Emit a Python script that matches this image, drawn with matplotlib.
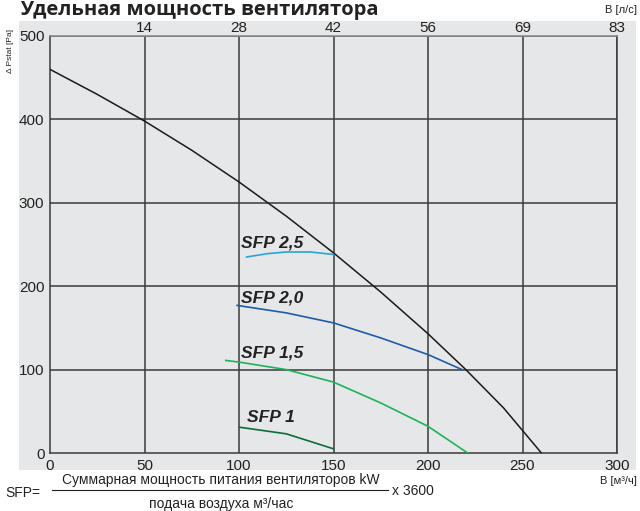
import matplotlib
matplotlib.use("Agg")
import matplotlib.pyplot as plt
from matplotlib.patches import Rectangle

# Fan curve (m3/h -> Pa)
fan_x = [0, 25, 50, 75, 100, 125, 150, 175, 200, 220, 240, 260]
fan_y = [460, 430, 398, 363, 325, 284, 240, 193, 143, 100, 54, 0]

# SFP curves
sfp25_x = [104, 115, 125, 138, 150]
sfp25_y = [235, 239, 241, 241, 238]
sfp20_x = [99, 125, 150, 175, 200, 218]
sfp20_y = [177, 168, 156, 138, 118, 100]
sfp15_x = [93, 100, 125, 150, 175, 200, 221]
sfp15_y = [111, 109, 100, 85, 60, 32, 0]
sfp1_x = [100, 125, 150]
sfp1_y = [31, 23, 5]

sfp_labels = ["SFP 2,5", "SFP 2,0", "SFP 1,5", "SFP 1"]
label_pos = [(101, 247), (101, 181), (101, 114), (104, 37)]

x_ticks = [0, 50, 100, 150, 200, 250, 300]
top_labels = ["", "14", "28", "42", "56", "69", "83"]
y_ticks = [0, 100, 200, 300, 400, 500]

fig = plt.figure(figsize=(6.4, 5.11), dpi=100)
W, H = 640, 511

# grey panel behind the chart
bg = fig.add_axes([0, 0, 1, 1], zorder=-1)
bg.set_xlim(0, W)
bg.set_ylim(H, 0)
bg.axis("off")
bg.add_patch(Rectangle((19, 21), 636 - 19, 470 - 21, facecolor="#e6e7e8", edgecolor="none"))

ax = fig.add_axes([50 / W, 1 - 453 / H, (617 - 50) / W, (453 - 36) / H], zorder=1)
ax.set_facecolor("none")
ax.set_xlim(0, 300)
ax.set_ylim(0, 500)

font = "Liberation Sans"
grid_c = "#3a3a3a"
for x in x_ticks[1:]:
    ax.axvline(x, color=grid_c, lw=1.1, zorder=1)
for y in y_ticks[1:]:
    ax.axhline(y, color=grid_c, lw=1.1, zorder=1)
for s in ax.spines.values():
    s.set_color(grid_c)
    s.set_linewidth(1.1)
ax.spines["top"].set_color("#888888")

ax.set_xticks(x_ticks)
ax.set_yticks(y_ticks)
ax.tick_params(length=0, labelsize=11, pad=4, colors="#222222")
for lab in ax.get_xticklabels() + ax.get_yticklabels():
    lab.set_family(font)

top = ax.secondary_xaxis("top")
top.set_xticks(x_ticks)
top.set_xticklabels(top_labels, family=font)
top.tick_params(length=0, labelsize=11, pad=1, colors="#222222")
top.spines["top"].set_visible(False)

ax.plot(fan_x, fan_y, color="#1a1a1a", lw=1.1, zorder=3)
ax.plot(sfp25_x, sfp25_y, color="#2aa3dc", lw=1.2, zorder=3)
ax.plot(sfp20_x, sfp20_y, color="#1f5ca8", lw=1.2, zorder=3)
ax.plot(sfp15_x, sfp15_y, color="#1db35a", lw=1.2, zorder=3)
ax.plot(sfp1_x, sfp1_y, color="#0b6e3a", lw=1.2, zorder=3)

for txt, (x, y) in zip(sfp_labels, label_pos):
    ax.text(x, y, txt, fontsize=12.5, fontweight="bold", style="italic",
            family=font, color="#222222", va="baseline", zorder=4)

fig.text(20 / W, 1 - 15 / H, "Удельная мощность вентилятора", fontsize=14.5,
         fontweight="bold", family="Open Sans", color="#222222", va="baseline")
fig.text(637 / W, 1 - 10 / H, "В [л/с]", fontsize=8, family=font,
         ha="right", va="center", color="#222222")
fig.text(637 / W, 1 - 481 / H, "В [м³/ч]", fontsize=8, family=font,
         ha="right", va="center", color="#222222")
fig.text(11 / W, 1 - 51 / H, "Δ Pstat [Pa]", fontsize=6, family=font,
         rotation=90, ha="center", va="center", color="#222222")

# SFP formula
fig.text(5 / W, 1 - 493 / H, "SFP=", fontsize=10, family=font, va="center", color="#222222")
fig.text(221 / W, 1 - 480 / H, "Суммарная мощность питания вентиляторов kW",
         fontsize=10, family=font, ha="center", va="center", color="#222222")
fig.text(221 / W, 1 - 504 / H, "подача воздуха м³/час",
         fontsize=10, family=font, ha="center", va="center", color="#222222")
fig.add_artist(plt.Line2D([52 / W, 388 / W], [1 - 490 / H, 1 - 490 / H],
                          color="#222222", lw=0.8))
fig.text(392 / W, 1 - 491 / H, "x 3600", fontsize=10, family=font, va="center", color="#222222")

fig.savefig("out.png", dpi=100)
